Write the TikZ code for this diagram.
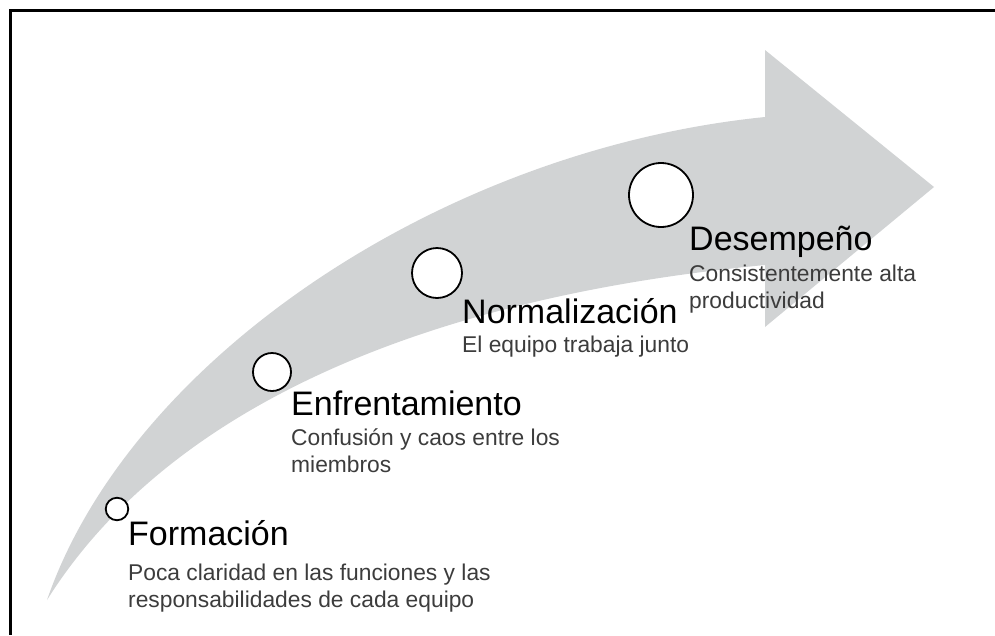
\documentclass[tikz,border=0pt]{standalone}
\usepackage{fontspec}
\setmainfont{Liberation Sans}
\definecolor{arrowgrey}{RGB}{209,211,212}
\definecolor{subgrey}{RGB}{60,60,60}
\begin{document}
\begin{tikzpicture}[x=1pt,y=-1pt,
  stage/.style={circle, draw=black, line width=1.8pt, fill=white, inner sep=0pt},
  stitle/.style={anchor=base west, inner sep=0pt, font=\fontsize{34}{40}\selectfont, text=black},
  sdesc/.style={anchor=base west, inner sep=0pt, align=left, font=\fontsize{22.8}{26.5}\selectfont, text=subgrey}]
\useasboundingbox (0,0) rectangle (995,635);
% curved arrow
\fill[arrowgrey] (47,600) .. controls (130,360) and (440,150) .. (765,117)
  -- (765,50) -- (934,187) -- (765,327) -- (765,265)
  .. controls (400,300) and (160,420) .. (47,600) -- cycle;
% frame (top and left only)
\draw[line width=3pt] (995,10) -- (10,10) -- (10,635);
% stage circles
\node[stage, minimum size=22.5pt] (c1) at (117,509) {};
\node[stage, minimum size=38pt] (c2) at (272,372) {};
\node[stage, minimum size=50pt] (c3) at (437,273) {};
\node[stage, minimum size=64pt] (c4) at (661,195) {};
% titles
\node[stitle] (t1) at (128,545) {Formación};
\node[stitle] (t2) at (291,415) {Enfrentamiento};
\node[stitle] (t3) at (462,323) {Normalización};
\node[stitle] (t4) at (689,250) {Desempeño};
% descriptions (anchored at the baseline of their last line)
\node[sdesc] (d1) at (128,607) {Poca claridad en las funciones y las\\responsabilidades de cada equipo};
\node[sdesc] (d2) at (291,472) {Confusión y caos entre los\\miembros};
\node[sdesc] (d3) at (462,352) {El equipo trabaja junto};
\node[sdesc] (d4) at (689,308) {Consistentemente alta\\productividad};
\end{tikzpicture}
\end{document}
